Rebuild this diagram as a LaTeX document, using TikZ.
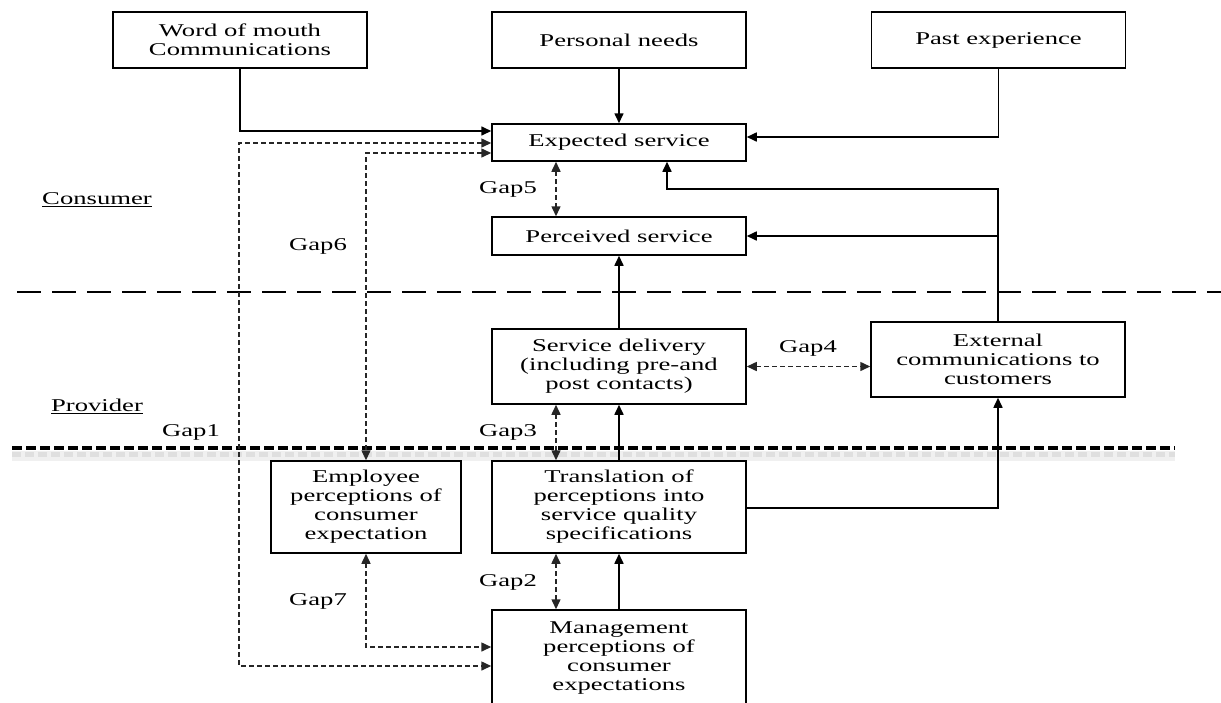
\documentclass[tikz,border=0pt]{standalone}
\usepackage{fontspec}
\setmainfont{Liberation Serif}[FakeStretch=1.48]
\usetikzlibrary{arrows.meta}
\tikzset{
  box/.style={draw, line width=1.5pt, align=center, inner sep=0pt, minimum width=254pt},
  link/.style={line width=1.6pt, -{Triangle[length=10pt,width=9pt]}},
  gaplink/.style={line width=1.5pt, black!85, dash pattern=on 5pt off 3pt,
    {Triangle[length=10pt,width=9pt]}-{Triangle[length=10pt,width=9pt]}},
}
\begin{document}
\begin{tikzpicture}[x=1pt,y=-1pt,every node/.style={font=\fontsize{18pt}{19pt}\selectfont}]
\useasboundingbox (0,0) rectangle (1221,702);
% consumer / provider borders
\draw[line width=1.8pt, dash pattern=on 24pt off 11pt] (17,292) -- (1221,292);
\draw[gray!12, line width=10pt] (12,456) -- (1175,456);
\draw[gray!25, line width=5pt, dash pattern=on 9pt off 4pt] (12,454) -- (1175,454);
\draw[line width=4pt, dash pattern=on 10pt off 4pt] (12,448) -- (1175,448);
% boxes
\node[box, minimum height=56pt] (wom) at (240,40) {Word of mouth\\Communications};
\node[box, minimum height=56pt] (need) at (619,40) {Personal needs};
\node[box, minimum height=56pt] (past) at (998.5,40) {Past experience};
\node[box, minimum height=37pt] (expd) at (619,142.5) {Expected service};
\node[box, minimum height=38pt] (perc) at (619,236) {Perceived service};
\node[box, minimum height=75pt] (deliv) at (619,366.5) {Service delivery\\(including pre-and\\post contacts)};
\node[box, minimum height=75pt] (extc) at (998,359.5) {External\\communications to\\customers};
\node[box, minimum width=190pt, minimum height=92pt] (empl) at (366,507) {Employee\\perceptions of\\consumer\\expectation};
\node[box, minimum height=92pt] (trans) at (619,507) {Translation of\\perceptions into\\service quality\\specifications};
\node[box, minimum height=96pt] (mgmt) at (619,658) {Management\\perceptions of\\consumer\\expectations};
% side labels
\node (cons) at (97,200) {\underline{Consumer}};
\node (prov) at (97,406) {\underline{Provider}};
\node (g1) at (191,432) {Gap1};
\node (g2) at (508,582) {Gap2};
\node (g3) at (508,432) {Gap3};
\node (g4) at (808,348) {Gap4};
\node (g5) at (508,189) {Gap5};
\node (g6) at (318,246) {Gap6};
\node (g7) at (318,601) {Gap7};
% solid links
\draw[link] (wom.south) |- (expd.west |- 0,131);
\draw[link] (need.south) -- (expd.north);
\draw[link] (past.south) |- (expd.east |- 0,137);
\draw[link] (deliv.north) -- (perc.south);
\draw[link] (extc.north) |- (667,189) -- (expd.south -| 667,0);
\draw[link] (extc.north |- 0,236) -- (perc.east);
\draw[link] (trans.north) -- (deliv.south);
\draw[link] (trans.east |- 0,508) -| (extc.south);
\draw[link] (mgmt.north) -- (trans.south);
% gaps
\draw[gaplink] (expd.west |- 0,143) -| (239,666) -- (mgmt.west |- 0,666);
\draw[gaplink] (expd.west |- 0,153) -| (empl.north);
\draw[gaplink] (expd.south -| 556,0) -- (perc.north -| 556,0);
\draw[gaplink] (deliv.east) -- (extc.west |- deliv.east);
\draw[gaplink] (deliv.south -| 556,0) -- (trans.north -| 556,0);
\draw[gaplink] (trans.south -| 556,0) -- (mgmt.north -| 556,0);
\draw[gaplink] (empl.south) |- (mgmt.west |- 0,647);
\end{tikzpicture}
\end{document}
